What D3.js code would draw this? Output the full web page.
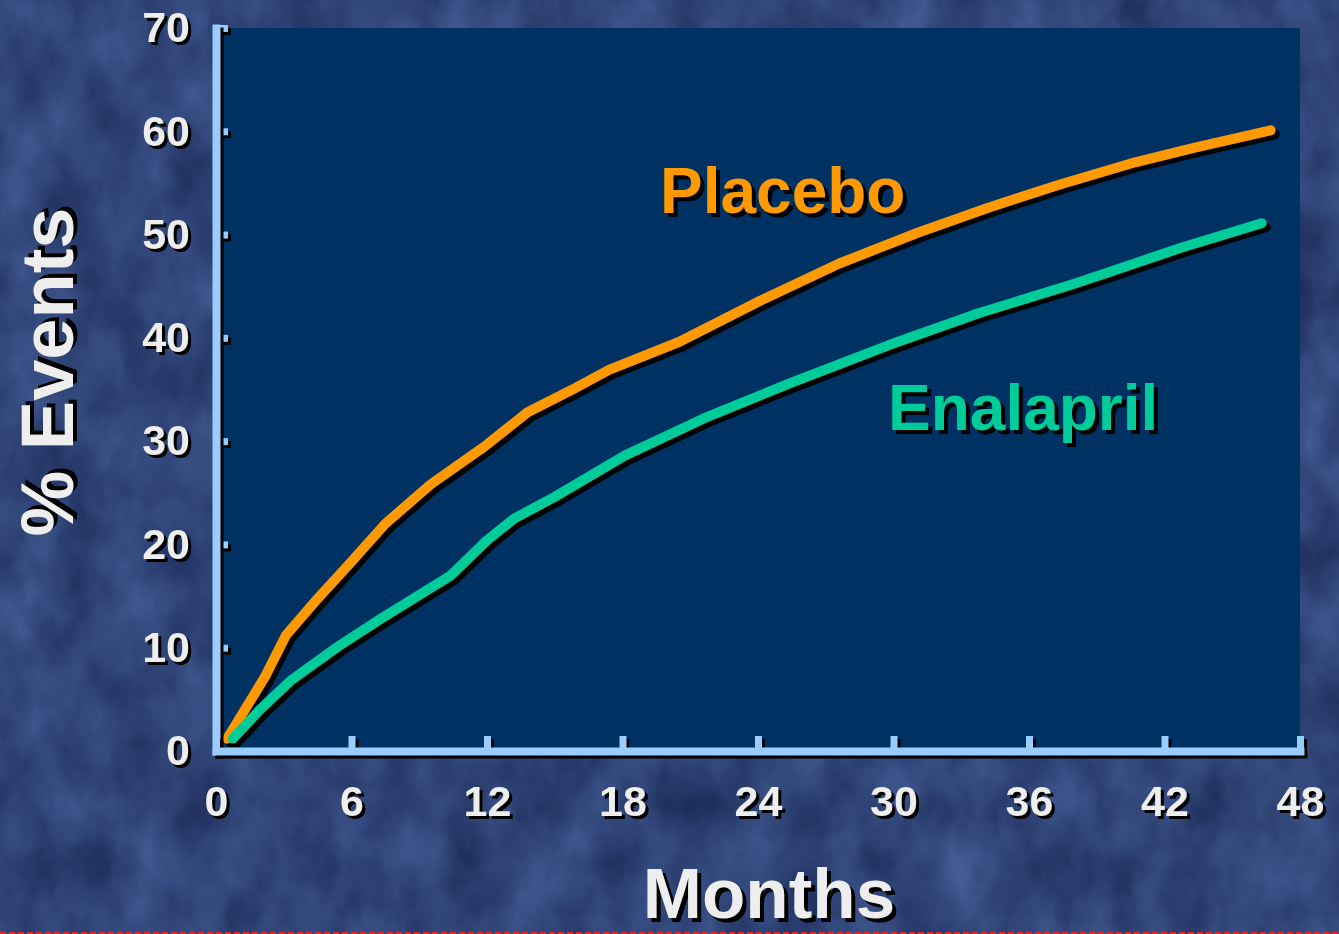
<!DOCTYPE html>
<html>
<head>
<meta charset="utf-8">
<script src="https://cdn.jsdelivr.net/npm/d3@7"></script>
<style>
  html, body { margin: 0; padding: 0; background: #2f4577; }
  svg { display: block; }
  text { font-family: "Liberation Sans", Arial, sans-serif; font-weight: bold; }
</style>
</head>
<body>
<script>
// Cumulative event rate (%) by month of follow-up
const placeboMonths = [0.5, 2.2, 3.1, 4.4, 5.9, 7.5, 9.5, 11.9, 13.8, 15.7, 17.4, 20.5, 24.1, 27.6, 31.1, 34.2, 37.3, 40.7, 43.3, 46.7];
const placeboValues = [1.2, 7.3, 11.2, 14.5, 18.1, 22.0, 25.8, 29.5, 32.8, 34.9, 36.9, 39.6, 43.6, 47.2, 50.2, 52.6, 54.8, 57.0, 58.4, 60.1];
const enalaprilMonths = [0.75, 1.9, 3.3, 5.4, 7.3, 10.4, 12.0, 13.2, 15.0, 18.1, 21.6, 25.4, 29.8, 33.8, 37.8, 39.6, 42.7, 46.3];
const enalaprilValues = [1.2, 3.9, 6.8, 10.1, 12.8, 17.0, 20.4, 22.5, 24.6, 28.6, 32.2, 35.6, 39.3, 42.4, 45.1, 46.4, 48.7, 51.1];
const monthTicks = [0, 6, 12, 18, 24, 30, 36, 42, 48];
const percentTicks = [0, 10, 20, 30, 40, 50, 60, 70];

const W = 1339, H = 934;
const svg = d3.select("body").append("svg").attr("width", W).attr("height", H);
const defs = svg.append("defs");

// Mottled blue backdrop
const tex = defs.append("filter").attr("id", "mottle")
  .attr("filterUnits", "userSpaceOnUse")
  .attr("x", 0).attr("y", 0).attr("width", W).attr("height", H)
  .attr("color-interpolation-filters", "sRGB");
tex.append("feTurbulence").attr("type", "fractalNoise")
  .attr("baseFrequency", "0.018 0.012").attr("numOctaves", 4).attr("seed", 7).attr("result", "n");
tex.append("feColorMatrix").attr("in", "n").attr("type", "matrix")
  .attr("values", "0.2 0 0 0 0.09  0.25 0 0 0 0.145  0.3 0 0 0 0.32  0 0 0 0 1");

// Hard black drop shadows used by lines, axes and text
function dropShadow(id, d) {
  const f = defs.append("filter").attr("id", id)
    .attr("filterUnits", "userSpaceOnUse")
    .attr("x", -500).attr("y", -500).attr("width", 3000).attr("height", 3000)
    .attr("color-interpolation-filters", "sRGB");
  f.append("feDropShadow").attr("dx", d).attr("dy", d).attr("stdDeviation", 0)
    .attr("flood-color", "#000").attr("flood-opacity", 1);
}
dropShadow("shadow", 4);
dropShadow("shadowSmall", 3);

svg.append("rect").attr("width", W).attr("height", H).attr("filter", "url(#mottle)");

const x = d3.scaleLinear().domain([0, 48]).range([216, 1300]);
const y = d3.scaleLinear().domain([0, 70]).range([751, 28]);

// Plot panel
svg.append("rect")
  .attr("x", x(0)).attr("y", y(70))
  .attr("width", x(48) - x(0)).attr("height", y(0) - y(70))
  .attr("fill", "#003163");

// Curves
const line = d3.line().x(d => x(d[0])).y(d => y(d[1]));
const series = [
  { name: "Placebo", color: "#ff9900", pts: d3.zip(placeboMonths, placeboValues) },
  { name: "Enalapril", color: "#00cc99", pts: d3.zip(enalaprilMonths, enalaprilValues) }
];
const curves = svg.append("g").attr("filter", "url(#shadow)");
curves.selectAll("path").data(series).join("path")
  .attr("d", d => line(d.pts))
  .attr("fill", "none")
  .attr("stroke", d => d.color)
  .attr("stroke-width", 10)
  .attr("stroke-linecap", "round")
  .attr("stroke-linejoin", "round");

// Axes
const axisColor = "#99ccff";
function styleAxis(g) {
  g.select(".domain").attr("stroke", axisColor).attr("stroke-width", 8).attr("stroke-linecap", "square");
  g.selectAll(".tick line").attr("stroke", axisColor).attr("stroke-width", 7);
  g.selectAll(".tick text")
    .attr("fill", "#eeeeee")
    .attr("font-size", 43)
    .attr("font-family", "'Liberation Sans', Arial, sans-serif")
    .attr("font-weight", "bold")
    .attr("filter", "url(#shadowSmall)");
}
const yAxis = svg.append("g").attr("transform", `translate(${x(0)},0)`)
  .call(d3.axisLeft(y).tickValues(percentTicks).tickSize(-12).tickSizeOuter(0).tickPadding(26))
  .call(styleAxis);
const xAxis = svg.append("g").attr("transform", `translate(0,${y(0)})`)
  .call(d3.axisBottom(x).tickValues(monthTicks).tickSize(-15).tickSizeOuter(0).tickPadding(34))
  .call(styleAxis);
[yAxis, xAxis].forEach(g => {
  g.select(".domain").attr("filter", "url(#shadowSmall)");
  g.selectAll(".tick line").attr("filter", "url(#shadowSmall)");
  // axis line drawn above the tick shadows
  g.select(".domain").raise();
});

// Series labels
svg.append("text").attr("x", 660).attr("y", 213)
  .attr("font-size", 64).attr("fill", "#ff9900").attr("filter", "url(#shadow)")
  .text("Placebo");
svg.append("text").attr("x", 888).attr("y", 430)
  .attr("font-size", 64).attr("fill", "#00cc99").attr("filter", "url(#shadow)")
  .text("Enalapril");

// Axis titles
svg.append("text").attr("x", 769).attr("y", 918).attr("text-anchor", "middle")
  .attr("font-size", 71).attr("fill", "#eeeeee").attr("filter", "url(#shadow)")
  .text("Months");
svg.append("text").attr("transform", "translate(73,372) rotate(-90)").attr("text-anchor", "middle")
  .attr("font-size", 74).attr("fill", "#eeeeee").attr("filter", "url(#shadow)")
  .text("% Events");

// Dashed red rule along the bottom edge
svg.append("line").attr("x1", 0).attr("x2", W).attr("y1", 933).attr("y2", 933)
  .attr("stroke", "#ee2222").attr("stroke-width", 2).attr("stroke-dasharray", "6,3");
</script>
</body>
</html>
